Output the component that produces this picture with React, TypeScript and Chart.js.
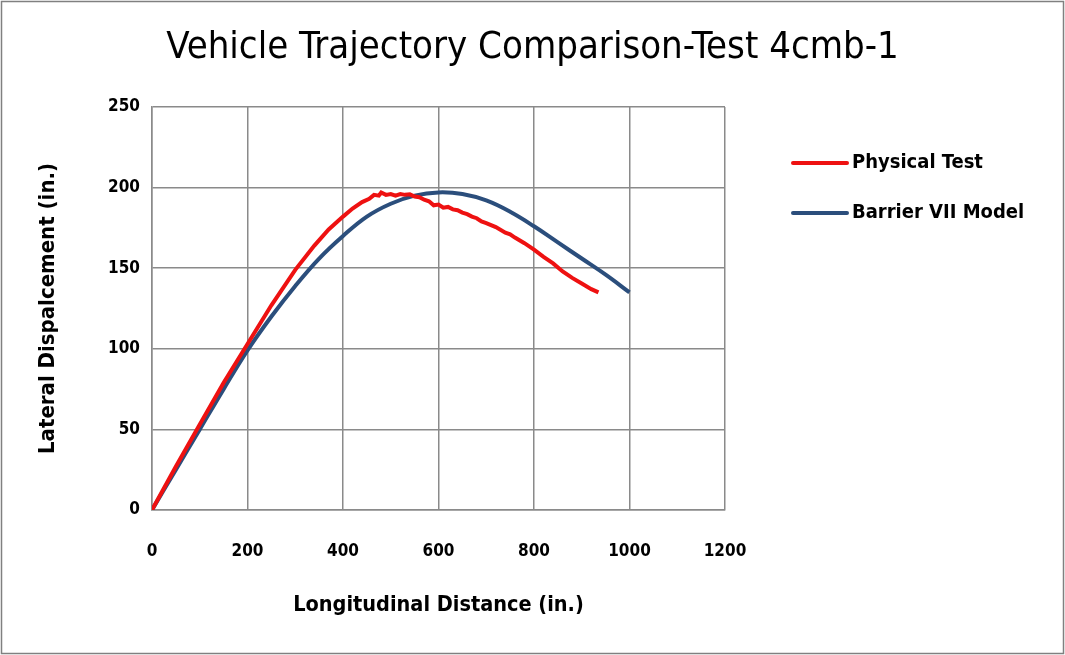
import React, { useEffect, useRef } from "react";
import { Chart, registerables } from "chart.js";

Chart.register(...registerables);

const chartTitle = "Vehicle Trajectory Comparison-Test 4cmb-1";
const xAxisTitle = "Longitudinal Distance (in.)";
const yAxisTitle = "Lateral Dispalcement (in.)";
const seriesNames = ["Physical Test", "Barrier VII Model"];
const seriesColors = ["#EE1111", "#2B4E7C"];

const physicalX = [0, 50, 100, 150, 200, 250, 300, 340, 370, 400, 420, 440, 455, 465, 475, 480, 490, 500, 510, 520, 530, 540, 550, 560, 570, 580, 590, 600, 610, 620, 630, 640, 650, 660, 670, 680, 690, 700, 720, 740, 750, 760, 780, 800, 820, 840, 860, 880, 900, 920, 935];
const physicalY = [0, 27, 53, 79, 103, 127, 149, 164, 174, 182, 187, 191, 193, 195.5, 195, 197, 195.5, 196, 195, 196, 195.5, 195.8, 194.5, 194, 192.5, 191.5, 189, 189.5, 187.5, 188, 186.5, 186, 184.5, 183.5, 182, 181, 179, 178, 175.5, 172, 171, 169, 165.5, 161.5, 157, 153, 148, 144, 140.5, 137, 135];

const modelX = [0, 50, 100, 150, 200, 250, 300, 350, 400, 450, 500, 550, 600, 650, 700, 750, 800, 850, 900, 950, 1000];
const modelY = [0, 25, 50, 75, 99, 120, 139, 156, 170, 182, 190, 195, 197, 196, 192, 185, 176, 166, 156, 146, 135];

const xTicks = [0, 200, 400, 600, 800, 1000, 1200];
const yTicks = [0, 50, 100, 150, 200, 250];

const FONT = '"Liberation Sans Narrow", "DejaVu Sans Condensed", sans-serif';
const GRID = "#8a8a8a";

export default function App() {
  const ref = useRef<HTMLCanvasElement | null>(null);

  useEffect(() => {
    const canvas = ref.current;
    if (!canvas) return;

    const frame = {
      id: "frame",
      beforeDraw(chart: any) {
        const { ctx, width, height } = chart;
        ctx.save();
        ctx.fillStyle = "#ffffff";
        ctx.fillRect(0, 0, width, height);
        ctx.strokeStyle = "#808080";
        ctx.lineWidth = 1.5;
        ctx.strokeRect(1.5, 1.5, width - 3, height - 3);
        ctx.restore();
      },
    };

    const customLegend = {
      id: "customLegend",
      afterDraw(chart: any) {
        const { ctx } = chart;
        const x0 = chart.chartArea.right + 68;
        const startY = 163;
        const gap = 50;
        ctx.save();
        chart.data.datasets.forEach((ds: any, i: number) => {
          const y = startY + i * gap;
          ctx.strokeStyle = ds.borderColor;
          ctx.lineWidth = 4;
          ctx.lineCap = "round";
          ctx.beginPath();
          ctx.moveTo(x0, y);
          ctx.lineTo(x0 + 54, y);
          ctx.stroke();
          ctx.fillStyle = "#000";
          ctx.font = `bold 20px ${FONT}`;
          ctx.textBaseline = "middle";
          ctx.textAlign = "left";
          ctx.fillText(ds.label, x0 + 59, y);
        });
        ctx.restore();
      },
    };

    const chart = new Chart(canvas, {
      type: "scatter",
      data: {
        datasets: [
          {
            label: seriesNames[0],
            data: physicalX.map((x, i) => ({ x, y: physicalY[i] })),
            showLine: true,
            borderColor: seriesColors[0],
            backgroundColor: seriesColors[0],
            borderWidth: 4,
            pointRadius: 0,
            tension: 0,
          },
          {
            label: seriesNames[1],
            data: modelX.map((x, i) => ({ x, y: modelY[i] })),
            showLine: true,
            borderColor: seriesColors[1],
            backgroundColor: seriesColors[1],
            borderWidth: 4,
            pointRadius: 0,
            tension: 0.4,
          },
        ],
      },
      options: {
        animation: false,
        responsive: false,
        devicePixelRatio: 1,
        layout: { padding: { top: 10, left: 0, right: 0, bottom: 0 } },
        plugins: {
          legend: { display: false },
          tooltip: { enabled: false },
          title: {
            display: true,
            text: chartTitle,
            color: "#000",
            font: { family: FONT, size: 38, weight: "normal", lineHeight: 1.2 },
            padding: { top: 15.2, bottom: 36.2 },
          },
        },
        scales: {
          x: {
            type: "linear",
            min: 0,
            max: 1200,
            afterBuildTicks: (scale: any) => {
              scale.ticks = xTicks.map((v) => ({ value: v }));
            },
            afterFit: (scale: any) => {
              scale.height = 145;
            },
            ticks: {
              color: "#000",
              font: { family: FONT, size: 17, weight: "bold" },
              padding: 31,
              maxRotation: 0,
              callback: (v: any) => String(v),
            },
            grid: { color: GRID, lineWidth: 1.5, drawTicks: false },
            border: { color: GRID, width: 1.5 },
            title: {
              display: true,
              text: xAxisTitle,
              color: "#000",
              font: { family: FONT, size: 21.5, weight: "bold", lineHeight: 1.2 },
              padding: { top: 0, bottom: 37 },
            },
          },
          y: {
            type: "linear",
            min: 0,
            max: 250,
            afterBuildTicks: (scale: any) => {
              scale.ticks = yTicks.map((v) => ({ value: v }));
            },
            afterFit: (scale: any) => {
              scale.width = 152;
            },
            ticks: {
              color: "#000",
              font: { family: FONT, size: 17, weight: "bold" },
              padding: 12,
              callback: (v: any) => String(v),
            },
            grid: { color: GRID, lineWidth: 1.5, drawTicks: false },
            border: { color: GRID, width: 1.5 },
            title: {
              display: true,
              text: yAxisTitle,
              color: "#000",
              font: { family: FONT, size: 22, weight: "bold", lineHeight: 1.2 },
              padding: { top: 35, bottom: 0 },
            },
          },
          spacer: {
            type: "linear",
            position: "right",
            display: true,
            ticks: { display: false },
            grid: { display: false },
            border: { display: false },
            afterFit: (scale: any) => {
              scale.width = 340;
            },
          },
        },
      } as any,
      plugins: [frame, customLegend],
    });

    return () => chart.destroy();
  }, []);

  return (
    <div style={{ position: "fixed", left: 0, top: 0, width: 1065, height: 655, background: "#fff" }}>
      <canvas ref={ref} width={1065} height={655} />
    </div>
  );
}
